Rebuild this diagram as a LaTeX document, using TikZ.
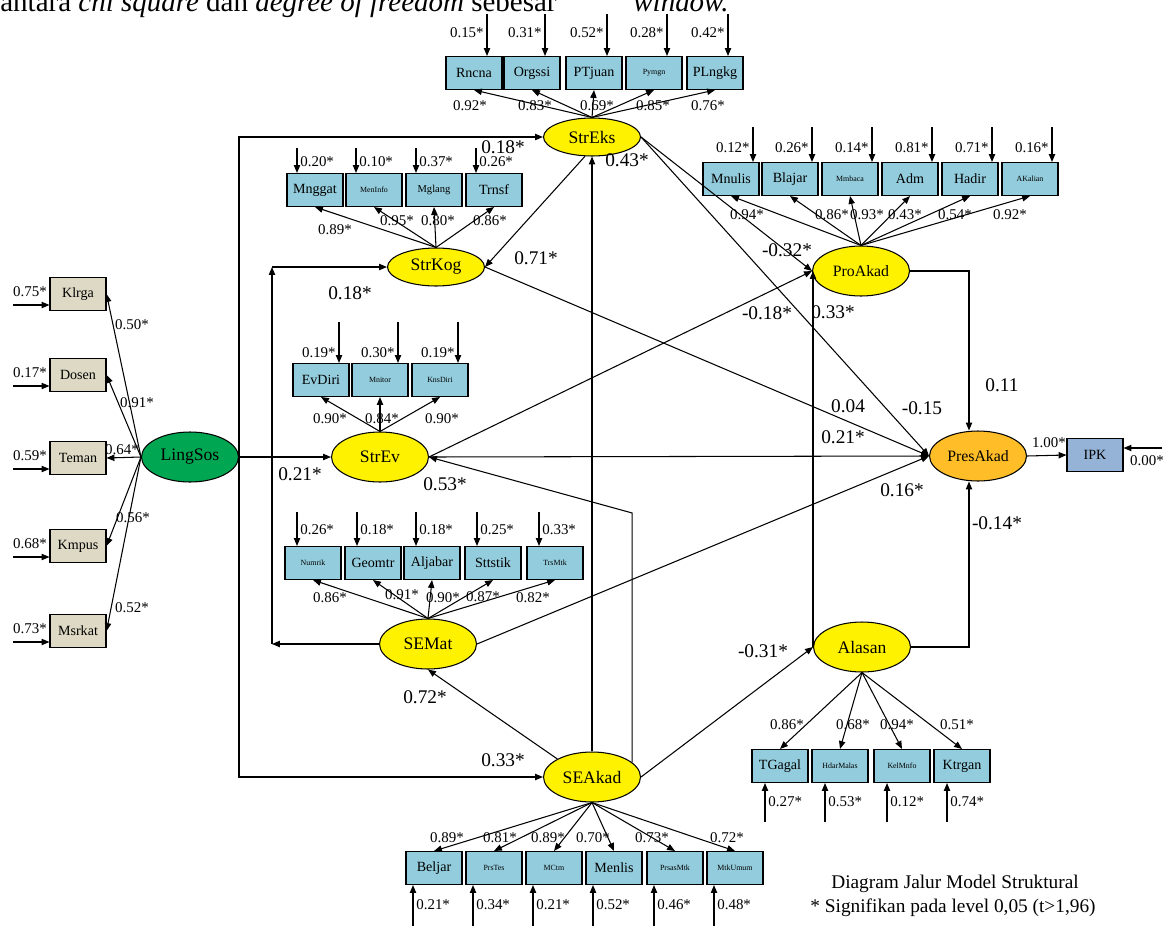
\documentclass[tikz,border=0pt]{standalone}
\usepackage{fontspec}
\setmainfont{Liberation Serif}
\usetikzlibrary{shapes.geometric, arrows.meta, positioning, calc}

\definecolor{indblue}{RGB}{147,205,221}
\definecolor{lsbeige}{RGB}{221,217,196}
\definecolor{lsgreen}{RGB}{0,166,81}
\definecolor{ipkblue}{RGB}{149,179,215}
\definecolor{presorange}{RGB}{255,190,40}

\begin{document}
\begin{tikzpicture}[
    x=0.02cm, y=-0.02cm,
    % --- Global Styles ---
    outline/.style={draw, line width=0.6pt, align=center, inner sep=0pt},
    ind/.style={outline, rectangle, fill=indblue, minimum width=1.12cm, minimum height=0.66cm, font=\fontsize{8}{9}\selectfont},
    inds/.style={ind, font=\fontsize{6}{7}\selectfont},
    indt/.style={ind, font=\fontsize{4.5}{5}\selectfont},
    social/.style={ind, fill=lsbeige},
    latent/.style={outline, ellipse, fill=yellow, minimum width=1.94cm, minimum height=1cm, font=\fontsize{10}{12}\selectfont},
    flat/.style={latent, minimum height=0.76cm},
    link/.style={-{Triangle[length=4.5pt,width=3.6pt]}, line width=0.6pt},
    coef/.style={font=\fontsize{11}{13}\selectfont, inner sep=0pt},
    load/.style={font=\fontsize{8.5}{10}\selectfont, inner sep=0pt}
]
    \useasboundingbox (0,0) rectangle (1168,926);

    % --- Cut-off text line above the figure ---
    \node[anchor=base west, inner sep=0pt, font=\fontsize{16.5}{19}\selectfont] (intro) at (0,12) {antara \textit{chi square} dan \textit{degree of freedom} sebesar};
    \node[anchor=base west, inner sep=0pt, font=\fontsize{16.5}{19}\selectfont] (introEnd) at (633,12) {\textit{window.}};

    % --- Latent variables ---
    \node[flat] (strEks) at (592,137) {StrEks};
    \node[flat] (strKog) at (436,267) {StrKog};
    \node[latent] (strEv) at (380,457) {StrEv};
    \node[latent] (seMat) at (428,644) {SEMat};
    \node[latent] (seAkad) at (592,777) {SEAkad};
    \node[latent, font=\fontsize{9}{11}\selectfont] (proAkad) at (861,271) {ProAkad};
    \node[latent] (alasan) at (862,647) {Alasan};
    \node[latent, fill=presorange, font=\fontsize{9}{11}\selectfont] (presAkad) at (978,456) {PresAkad};
    \node[latent, fill=lsgreen] (lingSos) at (190,457) {LingSos};
    \node[ind, fill=ipkblue] (ipk) at (1095,455) {IPK};

    % --- Indicators of StrEks ---
    \foreach \n/\x/\s/\t/\e/\ld/\lx in {rncna/474/ind/Rncna/0.15/0.92/470, orgssi/532/ind/Orgssi/0.31/0.83/535,
        ptjuan/594/ind/PTjuan/0.52/0.69/597, pymgn/654/indt/Pymgn/0.28/0.85/653, plngkg/715/ind/PLngkg/0.42/0.76/708}{
        \node[\s] (\n) at (\x,73) {\t};
        \coordinate (e\n) at (\x+13,14);
        \draw[link] (e\n) -- (e\n |- \n.north);
        \node[load, anchor=east] (te\n) at (\x+10,33) {\e*};
        \draw[link] (strEks.north) -- (\n.south);
        \node[load] (tl\n) at (\lx,106) {\ld*};
    }

    % --- Indicators of StrKog ---
    \foreach \n/\x/\s/\t/\e/\ld/\lx/\ly in {mnggat/315/ind/Mnggat/0.20/0.89/335/230, meninfo/374/indt/MenInfo/0.10/0.95/397/221,
        mglang/434/inds/Mglang/0.37/0.80/438/221, trnsf/494/ind/Trnsf/0.26/0.86/490/221}{
        \node[\s] (\n) at (\x,190) {\t};
        \coordinate (e\n) at (\x-18,148);
        \draw[link] (e\n) -- (e\n |- \n.north);
        \node[load, anchor=west] (te\n) at (\x-15,162) {\e*};
        \draw[link] (strKog.north) -- (\n.south);
        \node[load] (tl\n) at (\lx,\ly) {\ld*};
    }

    % --- Indicators of ProAkad ---
    \foreach \n/\x/\s/\t/\e/\ld/\lx in {mnulis/731/ind/Mnulis/0.12/0.94/747, blajar/790/ind/Blajar/0.26/0.86/832,
        mmbaca/850/indt/Mmbaca/0.14/0.93/867, adm/910/ind/Adm/0.81/0.43/905,
        hadir/970/ind/Hadir/0.71/0.54/955, akalian/1030/indt/AKalian/0.16/0.92/1010}{
        \node[\s] (\n) at (\x,179) {\t};
        \coordinate (e\n) at (\x+22,127);
        \draw[link] (e\n) -- (e\n |- \n.north);
        \node[load, anchor=east] (te\n) at (\x+19,148) {\e*};
        \draw[link] (proAkad.north) -- (\n.south);
        \node[load] (tl\n) at (\lx,215) {\ld*};
    }

    % --- Indicators of StrEv ---
    \foreach \n/\x/\s/\t/\e/\ld/\lx in {evdiri/321/ind/EvDiri/0.19/0.90/330, mnitor/380/indt/Mnitor/0.30/0.84/382,
        knsdiri/440/indt/KnsDiri/0.19/0.90/442}{
        \node[\s] (\n) at (\x,380) {\t};
        \coordinate (e\n) at (\x+18,322);
        \draw[link] (e\n) -- (e\n |- \n.north);
        \node[load, anchor=east] (te\n) at (\x+15,353) {\e*};
        \draw[link] (strEv.north) -- (\n.south);
        \node[load] (tl\n) at (\lx,419) {\ld*};
    }

    % --- Indicators of SEMat ---
    \foreach \n/\x/\s/\t/\e/\ld/\lx/\ly in {numrik/313/indt/Numrik/0.26/0.86/330/598, geomtr/373/ind/Geomtr/0.18/0.91/402/595,
        aljabar/432/ind/Aljabar/0.18/0.90/443/598, sttstik/493/ind/Sttstik/0.25/0.87/483/597,
        trsmtk/555/indt/TrsMtk/0.33/0.82/533/598}{
        \node[\s] (\n) at (\x,563) {\t};
        \coordinate (e\n) at (\x-16,512);
        \draw[link] (e\n) -- (e\n |- \n.north);
        \node[load, anchor=west] (te\n) at (\x-13,530) {\e*};
        \draw[link] (seMat.north) -- (\n.south);
        \node[load] (tl\n) at (\lx,\ly) {\ld*};
    }

    % --- Indicators of Alasan ---
    \foreach \n/\x/\s/\t/\e/\ld/\lx in {tgagal/780/ind/TGagal/0.27/0.86/787, hdarmalas/840/indt/HdarMalas/0.53/0.68/853,
        kelmnfo/902/indt/KelMnfo/0.12/0.94/897, ktrgan/962/ind/Ktrgan/0.74/0.51/957}{
        \node[\s] (\n) at (\x,766) {\t};
        \coordinate (e\n) at (\x-15,822);
        \draw[link] (e\n) -- (e\n |- \n.south);
        \node[load, anchor=west] (te\n) at (\x-12,802) {\e*};
        \draw[link] (alasan.south) -- (\n.north);
        \node[load] (tl\n) at (\lx,725) {\ld*};
    }

    % --- Indicators of SEAkad ---
    \foreach \n/\x/\s/\t/\e/\ld/\lx in {beljar/434/ind/Beljar/0.21/0.89/447, prstes/494/indt/PrsTes/0.34/0.81/500,
        mctm/554/indt/MCtm/0.21/0.89/548, menlis/614/ind/Menlis/0.52/0.70/593,
        prsasmtk/675/indt/PrsasMtk/0.46/0.73/652, mtkumum/735/indt/MtkUmum/0.48/0.72/727}{
        \node[\s] (\n) at (\x,868) {\t};
        \coordinate (e\n) at (\x-21,926);
        \draw[link] (e\n) -- (e\n |- \n.south);
        \node[load, anchor=west] (te\n) at (\x-18,905) {\e*};
        \draw[link] (seAkad.south) -- (\n.north);
        \node[load] (tl\n) at (\lx,838) {\ld*};
    }

    % --- Indicators of LingSos ---
    \foreach \n/\y/\t/\e/\ld/\lx/\ly in {klrga/294/Klrga/0.75/0.50/132/325, dosen/375/Dosen/0.17/0.91/137/403,
        teman/458/Teman/0.59/0.64/122/450, kmpus/546/Kmpus/0.68/0.56/133/518, msrkat/631/Msrkat/0.73/0.52/132/608}{
        \node[social] (\n) at (78,\y) {\t};
        \coordinate (e\n) at (13,\y+11);
        \draw[link] (e\n) -- (e\n -| \n.west);
        \node[load] (te\n) at (30,\y-2) {\e*};
        \draw[link] (lingSos.west) -- (\n.east);
        \node[load] (tl\n) at (\lx,\ly) {\ld*};
    }

    % --- Structural paths ---
    \draw[link] (lingSos.east) -- (strEv.west);
    \draw[link] (lingSos.east) -- (lingSos.east |- strEks) -- (strEks.west);
    \draw[link] (lingSos.east) -- (lingSos.east |- seAkad) -- (seAkad.west);

    \coordinate (kogLow) at (272,644);
    \coordinate (kogTop) at (272,267);
    \draw[link] (seMat.west) -- (kogLow);
    \draw[link] (kogLow) -- (kogTop);
    \draw[link] (kogTop) -- (strKog.west);

    \coordinate (evBend) at (632,513);
    \draw[link] (seAkad.north) -- (strEks.south);
    \draw[link] (seAkad.20) -- (seAkad.20 |- evBend) -- (strEv.east);
    \draw[link] (seAkad.north west) -- (seMat.south);
    \draw[link] (seAkad.east) -- (alasan.west);

    \draw[link] (strEks.250) -- (strKog.east);
    \draw[link] (strEks.east) -- (proAkad.west);
    \draw[link] (strEv.east) -- (proAkad.west);
    \draw[link] (alasan.west) -- (alasan.west |- proAkad.west);

    \draw[link] (strEks.east) -- (presAkad.west);
    \draw[link] (strKog.east) -- (presAkad.west);
    \draw[link] (strEv.east) -- (presAkad.west);
    \draw[link] (seMat.east) -- (presAkad.west);

    \coordinate (proBend) at (969,271);
    \draw[link] (proAkad.east) -- (proBend) -- (proBend |- presAkad.north);
    \draw[link] (alasan.east) -- (alasan.east -| proBend) -- (proBend |- presAkad.south);
    \draw[link] (presAkad.east) -- (ipk.west);
    \coordinate (eipk) at (1162,448);
    \draw[link] (eipk) -- (eipk -| ipk.east);

    % --- Path coefficients ---
    \node[coef] (c1) at (503,147) {0.18*};
    \node[coef] (c2) at (300,474) {0.21*};
    \node[coef] (c3) at (503,760) {0.33*};
    \node[coef] (c4) at (350,293) {0.18*};
    \node[coef] (c5) at (627,160) {0.43*};
    \node[coef] (c6) at (536,258) {0.71*};
    \node[coef] (c7) at (445,484) {0.53*};
    \node[coef] (c8) at (425,697) {0.72*};
    \node[coef] (c9) at (763,651) {-0.31*};
    \node[coef] (c10) at (787,250) {-0.32*};
    \node[coef] (c11) at (767,313) {-0.18*};
    \node[coef] (c12) at (833,312) {0.33*};
    \node[coef] (c13) at (1002,385) {0.11};
    \node[coef] (c14) at (922,408) {-0.15};
    \node[coef] (c15) at (848,406) {0.04};
    \node[coef] (c16) at (843,437) {0.21*};
    \node[coef] (c17) at (902,490) {0.16*};
    \node[coef] (c18) at (997,523) {-0.14*};
    \node[load] (c19) at (1049,443) {1.00*};
    \node[load] (c20) at (1147,461) {0.00*};

    % --- Caption ---
    \node[font=\fontsize{11}{13}\selectfont, inner sep=0pt] (cap1) at (955,884) {Diagram Jalur Model Struktural};
    \node[font=\fontsize{11}{13}\selectfont, inner sep=0pt] (cap2) at (953,908) {* Signifikan pada level 0,05 (t>1,96)};

\end{tikzpicture}
\end{document}
